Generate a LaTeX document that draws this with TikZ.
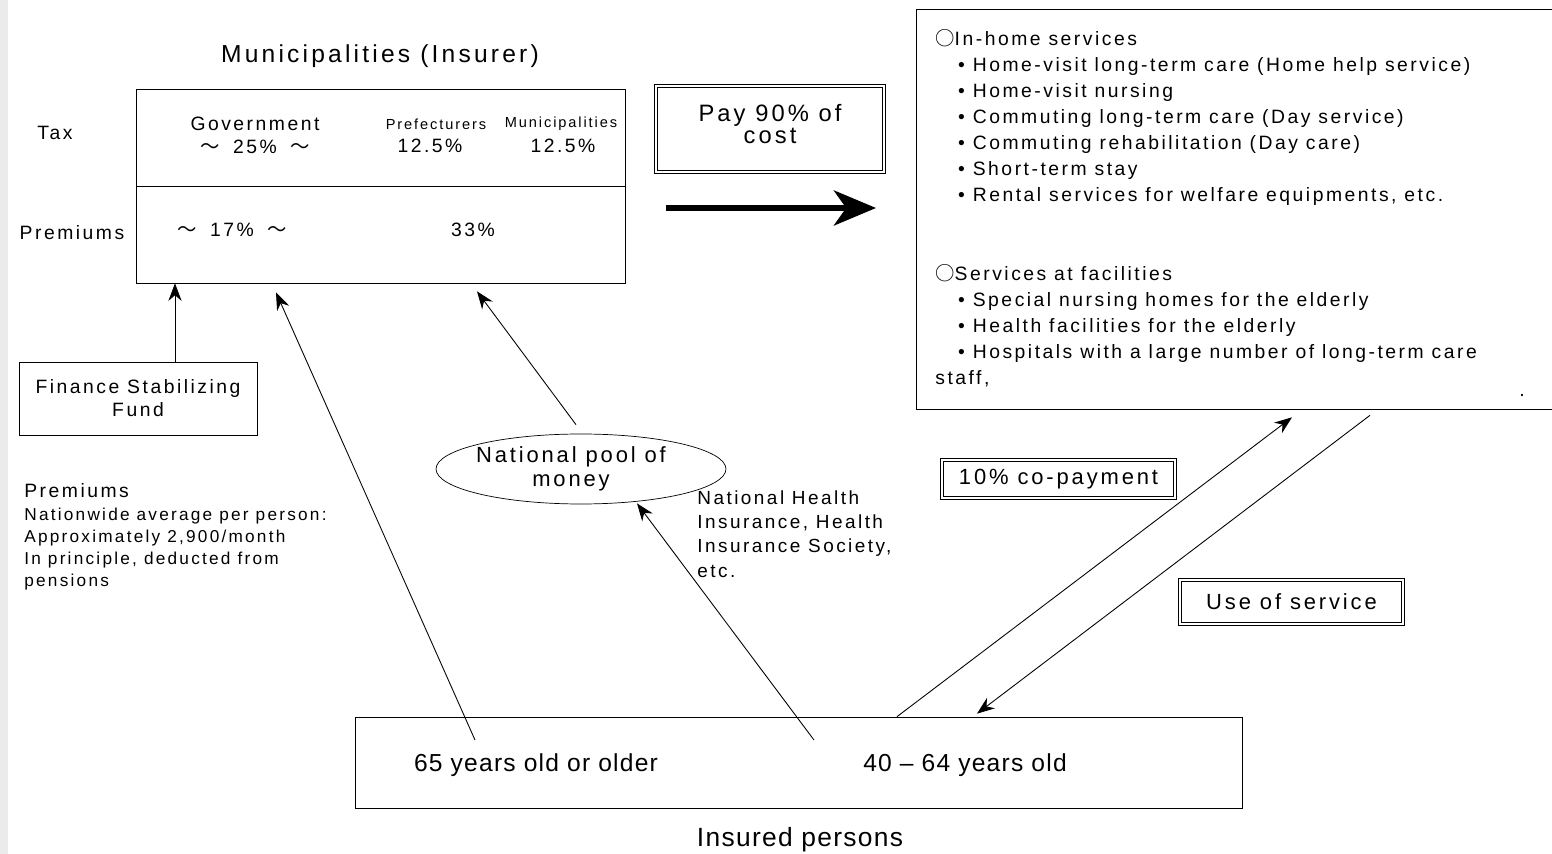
\documentclass[tikz,border=0pt]{standalone}
\usepackage{fontspec}
\setmainfont{Liberation Sans}[LetterSpace=13]
\newfontfamily\cjkfont{Noto Sans CJK JP}
\newfontfamily\narrowfont{Liberation Sans}[LetterSpace=5]
\newcommand{\tld}{{\cjkfont\char"FF5E}}
\newcommand{\wcirc}{{\cjkfont\char"25CB}}
\usetikzlibrary{shapes.geometric,arrows.meta}

\begin{document}
\begin{tikzpicture}[x=0.02cm,y=-0.02cm,>={Stealth[length=10pt,width=7.5pt]},
  box/.style={rectangle,draw=black,fill=white,inner sep=0pt},
  dbox/.style={rectangle,draw=black,double,double distance=1.6pt,inner sep=0pt},
  txt/.style={font=\fontsize{11}{13}\selectfont},
  big/.style={font=\fontsize{12.5}{13.5}\selectfont},
  small/.style={font=\fontsize{8.3}{10}\selectfont},
  note/.style={font=\fontsize{9.8}{12.4}\selectfont},
  ln/.style={line width=0.5pt}]
\useasboundingbox (0,0) rectangle (1552,854);
\fill[black!8] (0,0) rectangle (8,854);

% insurer
\node (title) at (380,56)[font=\fontsize{14}{16}\selectfont]{Municipalities (Insurer)};
\node (muni) at (380.5,186)[box,minimum width=9.78cm,minimum height=3.88cm]{};
\draw (muni.west)--(muni.east);
\node (tax) at (55,133)[txt]{Tax};
\node (prem) at (72,233)[txt]{Premiums};
\node (gov) at (255,135)[txt,align=center]{Government\\\tld\ \hspace{3pt}25\%\ \hspace{3pt}\tld};
\node (pref) at (436,124)[small]{Prefecturers};
\node (prefrate) at (430,146)[txt]{12.5\%};
\node (mun) at (561,124)[small]{Municipalities};
\node (munrate) at (563,146)[txt]{12.5\%};
\node (p17) at (232,230)[txt]{\tld\ \hspace{3pt}17\%\ \hspace{3pt}\tld};
\node (p33) at (473,230)[txt]{33\%};

% payment
\node (pay) at (770,129)[dbox,minimum width=4.56cm,minimum height=1.72cm]{};
\node (paytxt) at (770,124)[align=center,font=\fontsize{13.5}{13}\selectfont]{Pay 90\% of\\cost};
\coordinate (payA) at (666,208);
\coordinate (payB) at (876,208);
\draw[line width=3pt,-{Stealth[length=24pt,width=20pt,inset=7pt]}](payA)--(payB);

% services
\node (serv) at (1234,209)[box,minimum width=12.72cm,minimum height=8cm]{};
\node (inhome) at (935,29)[anchor=north west,inner sep=0pt,align=left,font=\fontsize{11}{14.85}\selectfont]{%
\wcirc In-home services\\
\hspace*{13pt}• Home-visit long-term care (Home help service)\\
\hspace*{13pt}• Home-visit nursing\\
\hspace*{13pt}• Commuting long-term care (Day service)\\
\hspace*{13pt}• Commuting rehabilitation (Day care)\\
\hspace*{13pt}• Short-term stay\\
\hspace*{13pt}• Rental services for welfare equipments, etc.\\[2\baselineskip]
\wcirc Services at facilities\\
\hspace*{13pt}• Special nursing homes for the elderly\\
\hspace*{13pt}• Health facilities for the elderly\\
\hspace*{13pt}• Hospitals with a large number of long-term care\\
staff,};
\node (dot) at (1522,395)[txt]{.};

% fund
\node (fund) at (138,398.5)[box,minimum width=4.76cm,minimum height=1.46cm,align=center,txt]{Finance Stabilizing\\Fund};
\draw[->]([xshift=0.74cm]fund.north)--([xshift=0.74cm]fund.north |- muni.south);
\node (premlbl) at (24,491)[anchor=west,inner sep=0pt,txt]{Premiums};
\node (premnote) at (24,508)[anchor=north west,inner sep=0pt,note,align=left]{Nationwide average per person:\\Approximately 2,900/month\\In principle, deducted from\\pensions};

% pool
\node (pool) at (581,469)[ellipse,draw,minimum width=5.8cm,minimum height=1.4cm,inner sep=0pt]{};
\node (pooltxt) at (571,469)[align=center,big]{National pool of\\money};
\node (nhi) at (697,490)[anchor=north west,inner sep=0pt,align=left,font=\fontsize{10.8}{13.9}\selectfont]{National Health\\Insurance, Health\\Insurance Society,\\etc.};

% insured persons
\node (ins) at (798.5,762.5)[box,minimum width=17.74cm,minimum height=1.82cm]{};
\node (old) at (536,765)[font=\narrowfont\fontsize{14}{16}\selectfont]{65 years old or older};
\node (mid) at (965,765)[font=\narrowfont\fontsize{14}{16}\selectfont]{40 – 64 years old};
\node (inslbl) at (800,840)[font=\narrowfont\fontsize{15}{17}\selectfont]{Insured persons};

\coordinate (oldA) at (475,740);
\coordinate (midA) at (814,740);
\draw[ln,->](oldA)--([shift={(-104.5,9)}]muni.south);
\draw[ln,->](midA)--([shift={(56,-1)}]pool.south);
\draw[ln,->]([shift={(-5,-9)}]pool.north)--([shift={(96.5,8)}]muni.south);

% co-payment and use of service
\node (copay) at (1058.5,479)[dbox,minimum width=4.66cm,minimum height=0.76cm,big]{10\% co-payment};
\node (use) at (1291.5,602)[dbox,minimum width=4.46cm,minimum height=0.88cm,big]{Use of service};
\draw[ln,->]([shift={(98.5,0)}]ins.north)--([shift={(58,8)}]serv.south);
\draw[ln,->]([shift={(136,6)}]serv.south)--([shift={(178.5,-3)}]ins.north);
\end{tikzpicture}
\end{document}
